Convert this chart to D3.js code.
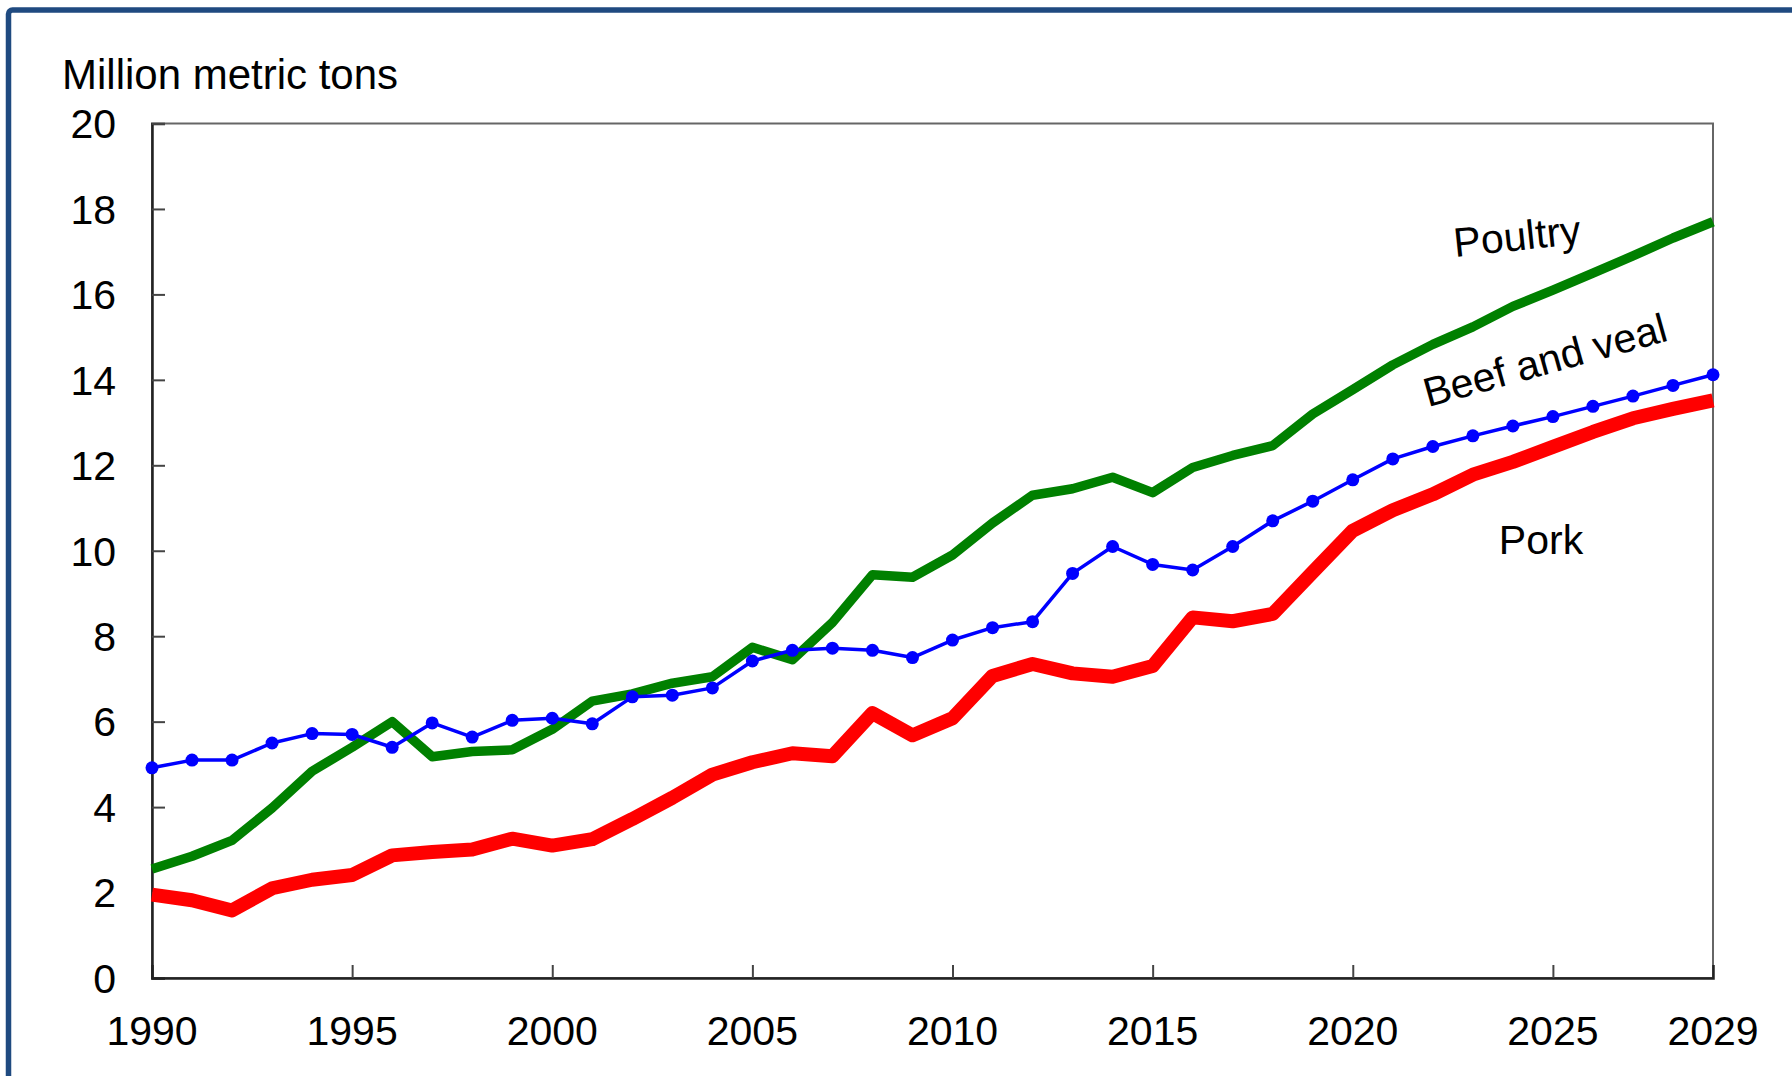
<!DOCTYPE html>
<html>
<head>
<meta charset="utf-8">
<script src="https://cdn.jsdelivr.net/npm/d3@7/dist/d3.min.js"></script>
<style>
  html, body { margin: 0; padding: 0; background: #fff; overflow: hidden; }
  svg { display: block; }
  text { font-family: "Liberation Sans", Arial, sans-serif; fill: #000; }
</style>
</head>
<body>
<svg id="chart" width="1792" height="1076"></svg>
<script>
const years = d3.range(1990, 2030);
const beefVeal = [4.92, 5.10, 5.10, 5.50, 5.72, 5.70, 5.40, 5.97, 5.64, 6.03, 6.08, 5.95,
  6.58, 6.62, 6.79, 7.42, 7.67, 7.72, 7.67, 7.50, 7.91, 8.20, 8.34, 9.47, 10.10, 9.68,
  9.55, 10.10, 10.70, 11.16, 11.66, 12.15, 12.44, 12.69, 12.92, 13.14, 13.38, 13.62, 13.87, 14.12];
const poultry = [2.55, 2.85, 3.22, 3.98, 4.84, 5.40, 6.00, 5.18, 5.30, 5.34, 5.82, 6.48,
  6.65, 6.90, 7.05, 7.74, 7.45, 8.32, 9.44, 9.38, 9.90, 10.65, 11.30, 11.45, 11.72, 11.36,
  11.95, 12.23, 12.46, 13.20, 13.77, 14.35, 14.83, 15.24, 15.72, 16.10, 16.50, 16.90, 17.32, 17.70];
const pork = [1.95, 1.82, 1.58, 2.10, 2.30, 2.41, 2.87, 2.95, 3.01, 3.26, 3.10, 3.25,
  3.72, 4.22, 4.76, 5.05, 5.26, 5.19, 6.20, 5.68, 6.08, 7.07, 7.35, 7.13, 7.05, 7.30,
  8.44, 8.35, 8.52, 9.50, 10.47, 10.95, 11.32, 11.78, 12.08, 12.43, 12.78, 13.10, 13.32, 13.52];
const yTicks = [0, 2, 4, 6, 8, 10, 12, 14, 16, 18, 20];
const xTicks = [1990, 1995, 2000, 2005, 2010, 2015, 2020, 2025, 2029];
const yAxisTitle = "Million metric tons";
const seriesLabels = ["Poultry", "Beef and veal", "Pork"];

const svg = d3.select("#chart");

// outer frame
svg.append("rect")
  .attr("x", 8.5).attr("y", 10).attr("width", 1800).attr("height", 1100)
  .attr("rx", 4)
  .attr("fill", "none").attr("stroke", "#1F4A80").attr("stroke-width", 5.5);

const x = d3.scaleLinear().domain([1990, 2029]).range([152, 1713]);
const y = d3.scaleLinear().domain([0, 20]).range([978, 123.5]);

const axisColor = "#444";

// plot frame
svg.append("rect")
  .attr("x", x(1990)).attr("y", y(20))
  .attr("width", x(2029) - x(1990)).attr("height", y(0) - y(20))
  .attr("fill", "none").attr("stroke", "#666").attr("stroke-width", 2);

// left axis (inward ticks)
const yAxis = d3.axisRight(y).tickValues(yTicks).tickSize(13).tickFormat("");
const gy = svg.append("g").attr("transform", `translate(${x(1990)},0)`).call(yAxis);
gy.select(".domain").attr("stroke", "#222").attr("stroke-width", 2.5);
gy.selectAll(".tick line").attr("stroke", axisColor).attr("stroke-width", 2);

// bottom axis (inward ticks)
const xAxis = d3.axisTop(x).tickValues(xTicks.filter(t => t !== 1990 && t !== 2029)).tickSize(13).tickFormat("");
const gx = svg.append("g").attr("transform", `translate(0,${y(0)})`).call(xAxis);
gx.select(".domain").attr("stroke", "#222").attr("stroke-width", 2.5);
gx.selectAll(".tick line").attr("stroke", axisColor).attr("stroke-width", 2);

// y tick labels
svg.append("g").selectAll("text").data(yTicks).join("text")
  .attr("x", 116).attr("y", d => y(d)).attr("dy", "0.36em")
  .attr("text-anchor", "end").attr("font-size", 41)
  .text(d => d);

// x tick labels
svg.append("g").selectAll("text").data(xTicks).join("text")
  .attr("x", d => x(d)).attr("y", 1045)
  .attr("text-anchor", "middle").attr("font-size", 41)
  .text(d => d);

// axis title
svg.append("text").attr("x", 62).attr("y", 89).attr("font-size", 42).text(yAxisTitle);

// lines
const line = d3.line().x((d, i) => x(years[i])).y(d => y(d));

svg.append("path").datum(pork).attr("d", line)
  .attr("fill", "none").attr("stroke", "#ff0000").attr("stroke-width", 14)
  .attr("stroke-linejoin", "round");
svg.append("path").datum(poultry).attr("d", line)
  .attr("fill", "none").attr("stroke", "#008000").attr("stroke-width", 9.5)
  .attr("stroke-linejoin", "round");
svg.append("path").datum(beefVeal).attr("d", line)
  .attr("fill", "none").attr("stroke", "#0000ff").attr("stroke-width", 3.5)
  .attr("stroke-linejoin", "round");
svg.append("g").selectAll("circle").data(beefVeal).join("circle")
  .attr("cx", (d, i) => x(years[i])).attr("cy", d => y(d)).attr("r", 6.5)
  .attr("fill", "#0000ff");

// series labels
svg.append("text").attr("transform", "translate(1517,236) rotate(-6)")
  .attr("text-anchor", "middle").attr("dy", "0.35em").attr("font-size", 41).text(seriesLabels[0]);
svg.append("text").attr("transform", "translate(1545,360) rotate(-15.5)")
  .attr("text-anchor", "middle").attr("dy", "0.35em").attr("font-size", 41).text(seriesLabels[1]);
svg.append("text").attr("transform", "translate(1541,540)")
  .attr("text-anchor", "middle").attr("dy", "0.35em").attr("font-size", 41).text(seriesLabels[2]);
</script>
</body>
</html>
